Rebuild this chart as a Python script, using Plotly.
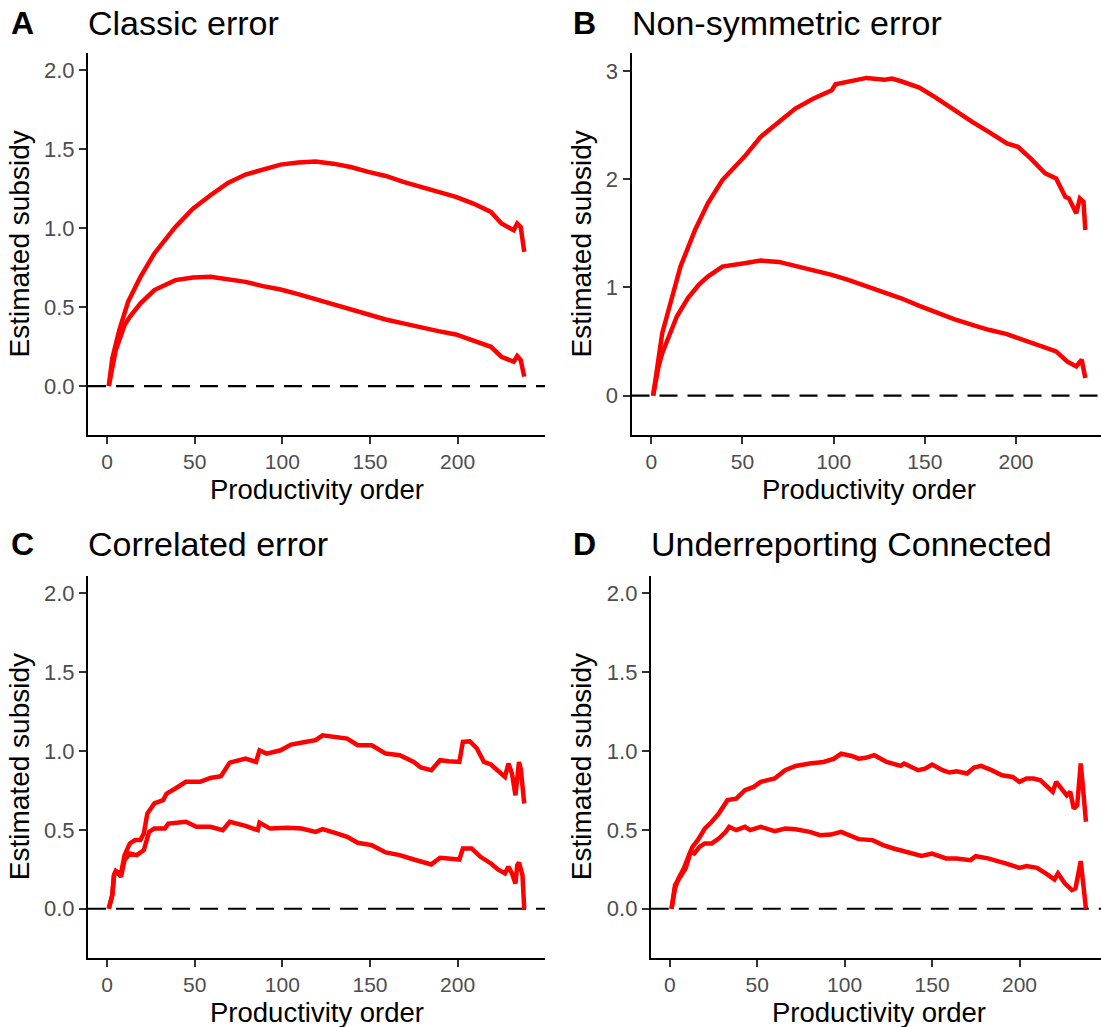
import plotly.graph_objects as go

W, H = 1101, 1027

# ---------------- data ----------------
a_up_x = [1,3,7,12,19,27,39,49,59,69,79,89,99,109,119,129,139,149,159,169,179,189,199,209,219,225,232,234,236,238]
a_up_y = [0,0.175,0.354,0.534,0.69,0.84,1.008,1.124,1.209,1.287,1.34,1.371,1.403,1.416,1.422,1.409,1.388,1.357,1.331,1.293,1.262,1.23,1.198,1.156,1.103,1.03,0.987,1.03,1.008,0.85]
a_lo_x = [1,5,10,13,19,27,39,49,59,69,79,89,99,109,119,129,139,149,159,169,179,189,199,209,219,225,232,234,236,238]
a_lo_y = [0,0.228,0.386,0.439,0.523,0.608,0.671,0.688,0.692,0.679,0.66,0.633,0.612,0.582,0.549,0.517,0.485,0.454,0.422,0.397,0.371,0.348,0.327,0.291,0.249,0.186,0.154,0.19,0.165,0.06]

b_up_x = [1,4,6,10,16,24,31,39,51,60,70,79,89,99,101,108,118,128,132,137,147,156,166,176,185,195,201,208,216,222,227,229,233,235,237,238]
b_up_y = [0,0.393,0.578,0.824,1.193,1.531,1.777,1.992,2.207,2.392,2.53,2.653,2.745,2.822,2.877,2.899,2.936,2.92,2.93,2.905,2.847,2.754,2.638,2.53,2.438,2.33,2.3,2.192,2.054,2.007,1.838,1.823,1.685,1.823,1.792,1.531]
b_lo_x = [1,4,6,9,14,20,26,31,39,51,60,70,79,89,99,108,118,128,137,147,156,166,176,185,195,204,214,222,228,233,236,238]
b_lo_y = [0,0.27,0.393,0.516,0.732,0.9,1.024,1.1,1.193,1.223,1.248,1.236,1.202,1.162,1.116,1.07,1.014,0.953,0.9,0.83,0.772,0.707,0.655,0.609,0.569,0.516,0.455,0.409,0.317,0.27,0.332,0.163]

c_up_x = [1,3,4,5,8,10,13,16,19,21,23,27,32,34,39,45,53,59,65,70,79,85,87,91,99,105,113,119,123,131,137,143,151,159,167,175,179,185,190,195,199,201,203,207,211,215,219,223,227,229,231,233,235,236,238]
c_up_y = [0,0.087,0.213,0.238,0.224,0.34,0.414,0.435,0.435,0.477,0.603,0.667,0.688,0.73,0.762,0.804,0.804,0.829,0.84,0.926,0.951,0.93,1.004,0.983,1.004,1.04,1.057,1.068,1.099,1.089,1.078,1.036,1.036,0.983,0.973,0.93,0.895,0.878,0.941,0.935,0.93,0.93,1.057,1.061,1.015,0.93,0.914,0.878,0.835,0.92,0.857,0.719,0.93,0.888,0.667]
c_lo_x = [1,3,4,5,8,10,13,17,21,24,27,33,35,45,51,59,66,70,79,86,87,93,103,111,119,123,131,137,143,151,159,167,175,179,185,190,199,201,203,208,213,219,223,227,229,231,233,234,235,237,238]
c_lo_y = [0,0.087,0.213,0.238,0.203,0.308,0.35,0.34,0.371,0.487,0.508,0.508,0.54,0.551,0.519,0.519,0.498,0.551,0.525,0.498,0.546,0.508,0.513,0.508,0.487,0.504,0.477,0.456,0.418,0.403,0.357,0.34,0.312,0.297,0.281,0.323,0.319,0.312,0.382,0.382,0.329,0.287,0.249,0.224,0.266,0.224,0.16,0.276,0.293,0.213,0]

d_up_x = [1,3,5,8,11,13,16,20,24,28,33,38,43,48,52,60,66,72,80,88,94,98,104,108,112,117,124,132,134,142,146,150,156,160,164,170,174,178,184,190,196,200,204,208,212,216,219,221,224,227,229,231,233,235,236,238]
d_up_y = [0,0.129,0.192,0.255,0.34,0.392,0.435,0.508,0.551,0.603,0.688,0.698,0.751,0.772,0.804,0.825,0.878,0.905,0.92,0.93,0.951,0.983,0.968,0.951,0.956,0.973,0.93,0.905,0.92,0.878,0.888,0.914,0.878,0.863,0.871,0.857,0.895,0.905,0.878,0.846,0.835,0.804,0.825,0.825,0.814,0.772,0.741,0.804,0.762,0.719,0.741,0.635,0.656,0.92,0.804,0.551]
d_lo_x = [1,3,6,9,12,14,17,20,24,28,32,34,38,43,46,52,60,66,72,80,86,92,98,104,108,116,122,128,132,138,144,150,158,164,172,175,182,192,200,204,210,215,220,222,226,230,232,235,236,238]
d_lo_y = [0,0.15,0.203,0.255,0.361,0.35,0.392,0.414,0.414,0.445,0.487,0.519,0.498,0.519,0.498,0.519,0.492,0.508,0.504,0.487,0.466,0.47,0.487,0.462,0.441,0.435,0.403,0.382,0.371,0.35,0.335,0.35,0.319,0.319,0.308,0.333,0.319,0.287,0.259,0.27,0.259,0.224,0.186,0.224,0.16,0.118,0.129,0.302,0.192,0]

tags = ["A", "B", "C", "D"]
titles = ["Classic error", "Non-symmetric error", "Correlated error", "Underreporting Connected"]
x_title = "Productivity order"
y_title = "Estimated subsidy"
x_ticks = [0, 50, 100, 150, 200]
y_ticks_std = [0, 0.5, 1.0, 1.5, 2.0]
y_ticks_b = [0, 1, 2, 3]

series = [
    [(a_up_x, a_up_y), (a_lo_x, a_lo_y)],
    [(b_up_x, b_up_y), (b_lo_x, b_lo_y)],
    [(c_up_x, c_up_y), (c_lo_x, c_lo_y)],
    [(d_up_x, d_up_y), (d_lo_x, d_lo_y)],
]

# ---------------- layout geometry (pixels) ----------------
# left, right, top, bottom of each panel
panels = [
    (88.0, 545.0, 53.0, 435.0),
    (631.5, 1101.0, 53.0, 435.0),
    (88.0, 545.0, 575.7, 957.7),
    (650.8, 1101.0, 575.7, 957.7),
]
x_ranges = [[-10.85, 249.85], [-10.85, 246.6], [-10.85, 249.85], [-10.85, 246.6]]
y_ranges = [[-0.31, 2.11], [-0.363, 3.166], [-0.31, 2.11], [-0.31, 2.11]]
y_tickvals = [y_ticks_std, y_ticks_b, y_ticks_std, y_ticks_std]
y_fmt = [".1f", "d", ".1f", ".1f"]

FONT = "Liberation Sans, Arial, Helvetica, sans-serif"

fig = go.Figure()
layout = dict(
    width=W, height=H,
    margin=dict(l=0, r=0, t=0, b=0),
    paper_bgcolor="white", plot_bgcolor="white",
    showlegend=False,
    font=dict(family=FONT, color="black"),
)
shapes = []
annotations = []

def px(x):
    return x / W

def py(y):
    return 1 - y / H

for i in range(4):
    n = "" if i == 0 else str(i + 1)
    l, r, t, b = panels[i]
    layout["xaxis" + n] = dict(
        domain=[px(l), px(r)], range=x_ranges[i], anchor="y" + n,
        showgrid=False, zeroline=False, showline=True, linecolor="black", linewidth=2,
        ticks="outside", ticklen=7, tickwidth=2, tickcolor="#333333",
        tickvals=x_ticks, tickfont=dict(family=FONT, size=21, color="#4D4D4D"),
        fixedrange=True,
    )
    layout["yaxis" + n] = dict(
        domain=[py(b), py(t)], range=y_ranges[i], anchor="x" + n,
        showgrid=False, zeroline=False, showline=True, linecolor="black", linewidth=2,
        ticks="outside", ticklen=7, tickwidth=2, tickcolor="#333333",
        tickvals=y_tickvals[i], tickformat=y_fmt[i],
        tickfont=dict(family=FONT, size=22, color="#4D4D4D"),
        fixedrange=True,
    )
    # dashed zero line
    shapes.append(dict(
        type="line", xref=("x" + n if n else "x") + " domain", yref="y" + n,
        x0=0, x1=1, y0=0, y1=0, layer="below",
        line=dict(color="black", width=2.2, dash="18px,10px"),
    ))
    for xs, ys in series[i]:
        fig.add_trace(go.Scatter(
            x=xs, y=ys, mode="lines", xaxis="x" + n, yaxis="y" + n,
            line=dict(color="#FF0000", width=4.5), hoverinfo="skip",
        ))
    # tags and titles
    cap_mid = 23.0 if i < 2 else 543.8
    tag_x = 8.5 if i % 2 == 0 else 571.0
    annotations.append(dict(
        text="<b>%s</b>" % tags[i], x=px(tag_x), y=py(cap_mid), xref="paper", yref="paper",
        xanchor="left", yanchor="middle", showarrow=False,
        font=dict(family=FONT, size=32, color="black"),
    ))
    annotations.append(dict(
        text=titles[i], x=px(l - 2), y=py(cap_mid), xref="paper", yref="paper",
        xanchor="left", yanchor="middle", showarrow=False,
        font=dict(family=FONT, size=34, color="black"),
    ))
    # axis titles
    full_r = l + (x_ranges[0][1] - x_ranges[0][0]) * (r - l) / (x_ranges[i][1] - x_ranges[i][0])
    annotations.append(dict(
        text=x_title, x=px((l + full_r) / 2), y=py(b + 55), xref="paper", yref="paper",
        xanchor="center", yanchor="middle", showarrow=False,
        font=dict(family=FONT, size=27.5, color="black"),
    ))
    ytx = 19.5 if i % 2 == 0 else 581.5
    annotations.append(dict(
        text=y_title, x=px(ytx), y=py((t + b) / 2), xref="paper", yref="paper",
        xanchor="center", yanchor="middle", textangle=-90, showarrow=False,
        font=dict(family=FONT, size=28, color="black"),
    ))

layout["shapes"] = shapes
layout["annotations"] = annotations
fig.update_layout(**layout)
fig.write_html(
    "out.html",
    config={"displayModeBar": False},
    post_script="document.body.style.margin='0';document.body.style.overflow='hidden';",
)
